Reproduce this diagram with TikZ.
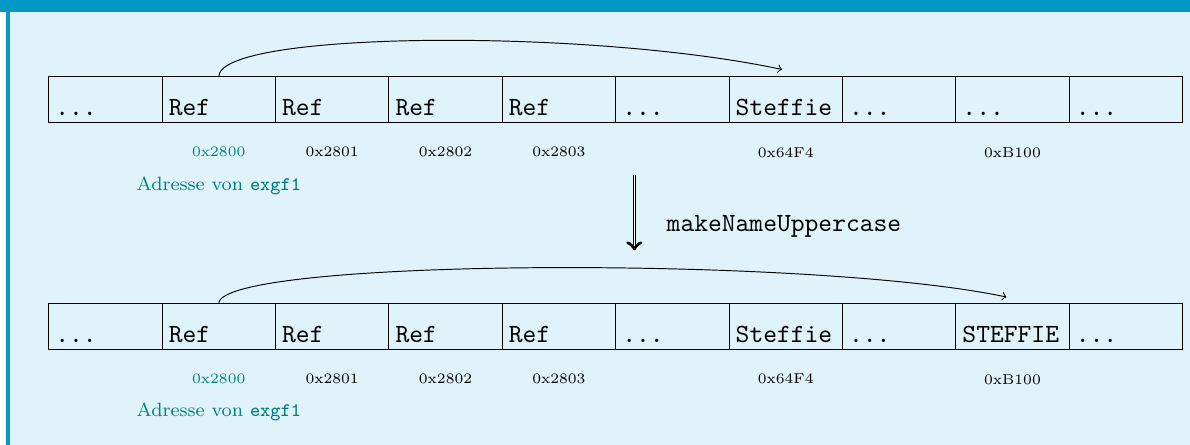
\documentclass[tikz,border=0pt,11pt]{standalone}
\usetikzlibrary{positioning}
\definecolor{boxframe}{HTML}{0399C4}
\definecolor{boxback}{HTML}{E1F3FA}

\begin{document}
\begin{tikzpicture}[
  cell/.style={draw, rectangle, outer sep=0pt, inner xsep=2.8pt, inner ysep=3pt, text width=41.65pt, text height=13pt, text depth=0pt, align=left, font=\ttfamily},
  addr/.style={font=\tiny, inner sep=0pt},
  ptr/.style={->, out=90, in=168, out distance=19pt, in distance=83pt}
]
% box
\fill[boxback] (0.0879,0) rectangle (17.429,6.341);
\fill[boxframe] (0.0879,0) rectangle (0.1465,6.341);
\fill[boxframe] (0,6.341) rectangle (17.429,6.517);
\useasboundingbox (0,0) rectangle (17.429,6.517);

% memory before
\node[cell, anchor=south west] (a1) at (0.713,4.726) {...};
\node[cell, right=0pt of a1] (a2) {Ref};
\node[cell, right=0pt of a2] (a3) {Ref};
\node[cell, right=0pt of a3] (a4) {Ref};
\node[cell, right=0pt of a4] (a5) {Ref};
\node[cell, right=0pt of a5] (a6) {...};
\node[cell, right=0pt of a6] (a7) {Steffie};
\node[cell, right=0pt of a7] (a8) {...};
\node[cell, right=0pt of a8] (a9) {...};
\node[cell, right=0pt of a9] (a10) {...};

\node[addr, teal, below=10.2pt of a2] (la2) {0x2800};
\node[addr, below=10.2pt of a3] (la3) {0x2801};
\node[addr, below=10.2pt of a4] (la4) {0x2802};
\node[addr, below=10.2pt of a5] (la5) {0x2803};
\node[addr, below=10.2pt of a7] (la7) {0x64F4};
\node[addr, below=10.2pt of a9] (la9) {0xB100};
\node[font=\scriptsize, inner sep=0pt, teal, below=7.6pt of la2] (va) {Adresse von \texttt{exgf1}};

\draw[ptr] (a2.north) to ([xshift=-1.5pt,yshift=3pt]a7.north);

% memory after
\node[cell, anchor=south west] (b1) at (0.713,1.402) {...};
\node[cell, right=0pt of b1] (b2) {Ref};
\node[cell, right=0pt of b2] (b3) {Ref};
\node[cell, right=0pt of b3] (b4) {Ref};
\node[cell, right=0pt of b4] (b5) {Ref};
\node[cell, right=0pt of b5] (b6) {...};
\node[cell, right=0pt of b6] (b7) {Steffie};
\node[cell, right=0pt of b7] (b8) {...};
\node[cell, right=0pt of b8] (b9) {STEFFIE};
\node[cell, right=0pt of b9] (b10) {...};

\node[addr, teal, below=10.2pt of b2] (lb2) {0x2800};
\node[addr, below=10.2pt of b3] (lb3) {0x2801};
\node[addr, below=10.2pt of b4] (lb4) {0x2802};
\node[addr, below=10.2pt of b5] (lb5) {0x2803};
\node[addr, below=10.2pt of b7] (lb7) {0x64F4};
\node[addr, below=10.2pt of b9] (lb9) {0xB100};
\node[font=\scriptsize, inner sep=0pt, teal, below=7.6pt of lb2] (vb) {Adresse von \texttt{exgf1}};

\draw[ptr] (b2.north) to ([xshift=-2.5pt,yshift=2.75pt]b9.north);

% call
\coordinate (c1) at ([xshift=7.8pt,yshift=-22pt]a6.south west);
\coordinate (c2) at ([xshift=7.8pt,yshift=22.2pt]b6.north west);
\draw[->, double] (c1) -- (c2) node[midway, anchor=west, xshift=13.3pt, yshift=-5.6pt, inner sep=0pt, font=\ttfamily] (fn) {makeNameUppercase};
\end{tikzpicture}
\end{document}
